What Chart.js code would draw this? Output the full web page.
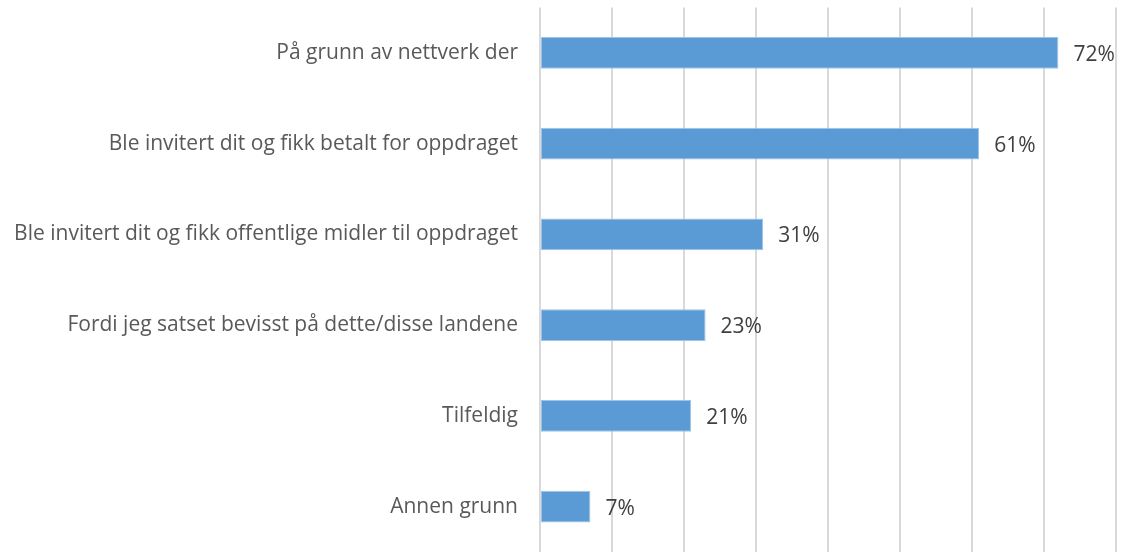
<!DOCTYPE html>
<html>
<head>
<meta charset="utf-8">
<script src="https://cdn.jsdelivr.net/npm/chart.js@4"></script>
<style>
html,body{margin:0;padding:0;background:#fff;overflow:hidden}
#wrap{width:1121px;height:552px;position:relative}
</style>
</head>
<body>
<div id="wrap"><canvas id="c"></canvas></div>
<script>
const categories = [
  "På grunn av nettverk der",
  "Ble invitert dit og fikk betalt for oppdraget",
  "Ble invitert dit og fikk offentlige midler til oppdraget",
  "Fordi jeg satset bevisst på dette/disse landene",
  "Tilfeldig",
  "Annen grunn"
];
const values = [72, 61, 31, 23, 21, 7];
const xTicks = [0, 10, 20, 30, 40, 50, 60, 70, 80];

const FONT = "'Open Sans', sans-serif";

const valueLabels = {
  id: 'valueLabels',
  afterDatasetsDraw(chart) {
    const ctx = chart.ctx;
    const meta = chart.getDatasetMeta(0);
    ctx.save();
    ctx.font = "21px " + FONT;
    ctx.fillStyle = "#404040";
    ctx.textAlign = "left";
    ctx.textBaseline = "middle";
    meta.data.forEach((bar, i) => {
      ctx.fillText(values[i] + "%", bar.x + 15, bar.y + 2);
    });
    ctx.restore();
  }
};

new Chart(document.getElementById('c'), {
  type: 'bar',
  data: {
    labels: categories,
    datasets: [{
      data: values,
      backgroundColor: '#5b9bd5',
      borderColor: '#9dc3e6',
      borderWidth: 1,
      borderSkipped: false,
      categoryPercentage: 1,
      barPercentage: 0.35
    }]
  },
  options: {
    indexAxis: 'y',
    responsive: true,
    maintainAspectRatio: false,
    animation: false,
    devicePixelRatio: 1,
    layout: { padding: { top: 7.5, bottom: -1.5, right: 5, left: 0 } },
    plugins: { legend: { display: false }, tooltip: { enabled: false } },
    scales: {
      x: {
        min: 0, max: 80,
        afterBuildTicks(axis) { axis.ticks = xTicks.map(v => ({ value: v })); },
        afterFit(axis) { axis.height = 0; axis.paddingLeft = 0; axis.paddingRight = 0; },
        ticks: { display: false },
        grid: { color: '#d9d9d9', lineWidth: 2, drawTicks: false },
        border: { display: false }
      },
      y: {
        grid: { display: false, drawTicks: false },
        border: { display: false },
        afterFit(axis) { axis.width = 540; axis.paddingTop = 0; axis.paddingBottom = 0; },
        ticks: {
          padding: 22,
          color: '#595959',
          font: { family: FONT, size: 21 }
        }
      }
    }
  },
  plugins: [valueLabels]
});
</script>
</body>
</html>
